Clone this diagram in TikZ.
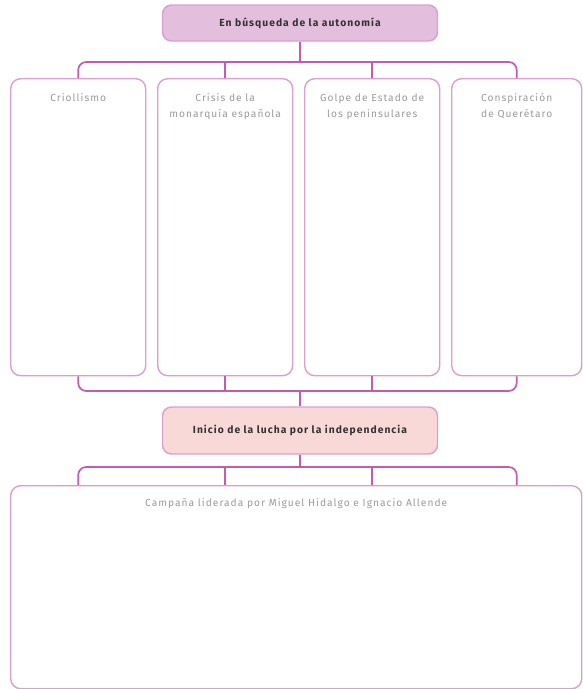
\documentclass[tikz,border=0pt]{standalone}
\usepackage{fontspec}
\setmainfont{Fira Sans}[LetterSpace=10]
\usetikzlibrary{positioning}

\definecolor{linea}{HTML}{C25BB2}
\definecolor{borde}{HTML}{DA9FD2}
\definecolor{lila}{HTML}{E3BEDD}
\definecolor{rosa}{HTML}{F9D8D8}
\definecolor{gristexto}{HTML}{9A9A9A}

\tikzset{
	titulo/.style={draw=borde, line width=1.4pt, rounded corners=9pt, minimum width=275pt, minimum height=36pt, font=\bfseries\fontsize{10.3}{12}\selectfont, text=black!80},
	caja/.style={draw=borde, line width=1.4pt, rounded corners=10pt, minimum width=135pt, minimum height=297pt, anchor=north west},
	etiqueta/.style={anchor=north, align=center, text=gristexto, font=\fontsize{10.2}{16}\selectfont},
	enlace/.style={draw=linea, line width=1.7pt, rounded corners=8pt},
}

\begin{document}
\begin{tikzpicture}[x=1pt, y=-1pt]
	\useasboundingbox (0,0) rectangle (582,689);
	
	% Titulo
	\node[titulo, fill=lila] (autonomia) at (300,23) {En búsqueda de la autonomía};
	
	% Cuatro cajas
	\node[caja] (criollismo) at (10,78) {};
	\node[caja] (crisis) at (157,78) {};
	\node[caja] (golpe) at (304,78) {};
	\node[caja, minimum width=130pt] (conspiracion) at (451,78) {};
	
	\node[etiqueta] (t1) at ([yshift=-12pt]criollismo.north) {Criollismo};
	\node[etiqueta] (t2) at ([yshift=-12pt]crisis.north) {Crisis de la\\monarquía española};
	\node[etiqueta] (t3) at ([yshift=-12pt]golpe.north) {Golpe de Estado de\\los peninsulares};
	\node[etiqueta] (t4) at ([yshift=-12pt]conspiracion.north) {Conspiración\\de Querétaro};
	
	% Inicio
	\node[titulo, fill=rosa, minimum height=47pt] (inicio) at (300,430.5) {Inicio de la lucha por la independencia};
	
	% Caja grande
	\node[caja, minimum width=571pt, minimum height=203pt] (campana) at (10,485) {};
	\node[etiqueta] (t5) at ([yshift=-10pt]campana.north) {Campaña liderada por Miguel Hidalgo e Ignacio Allende};
	
	% Lineas de arriba
	\coordinate (busA) at (300,62);
	\draw[enlace] (criollismo.north) |- (busA) -| (conspiracion.north);
	\draw[enlace] (autonomia.south) -- (busA);
	\foreach \c in {crisis, golpe} {
		\draw[enlace] (\c.north) -- (\c.north |- busA);
	}
	
	% Lineas del medio
	\coordinate (busB) at (300,391);
	\draw[enlace] (criollismo.south) |- (busB) -| (conspiracion.south);
	\draw[enlace] (inicio.north) -- (busB);
	\foreach \c in {crisis, golpe} {
		\draw[enlace] (\c.south) -- (\c.south |- busB);
	}
	
	% Lineas de abajo
	\coordinate (busC) at (300,467);
	\draw[enlace] (inicio.south) -- (busC);
	\draw[enlace] (criollismo.south |- campana.north) |- (busC) -| (conspiracion.south |- campana.north);
	\foreach \c in {crisis, golpe} {
		\draw[enlace] (\c.south |- campana.north) -- (\c.south |- busC);
	}
\end{tikzpicture}
\end{document}
